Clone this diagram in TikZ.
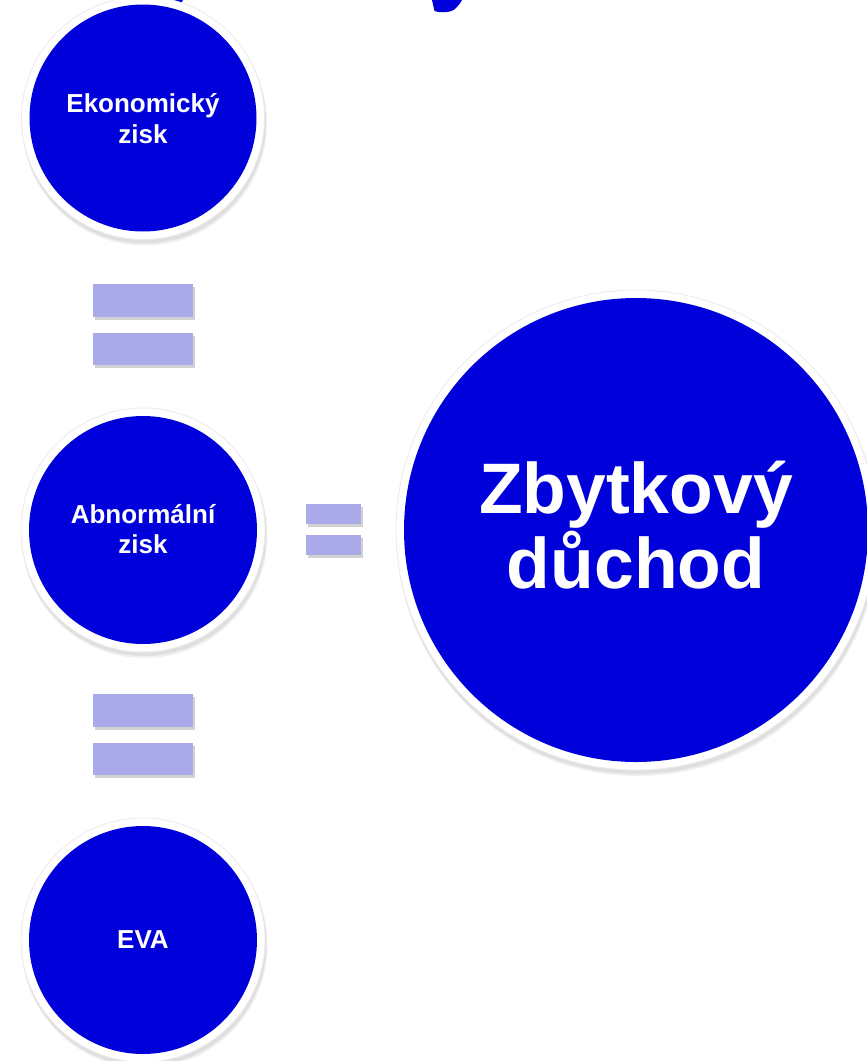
\documentclass[tikz,border=0pt]{standalone}
\usepackage{fontspec}
\setmainfont{Liberation Sans}
\usetikzlibrary{shadows}
\definecolor{dblue}{RGB}{0,0,218}
\definecolor{barfill}{RGB}{170,170,232}
\tikzset{
  disc/.style={circle, fill=dblue, inner sep=0pt, minimum size=#1},
  eqbar/.style={rectangle, fill=barfill, inner sep=0pt,
    drop shadow={shadow xshift=1.5pt, shadow yshift=-2.5pt, opacity=0.25, fill=black!70}},
  smalltxt/.style={text=white, font=\fontsize{26}{30}\selectfont\bfseries, inner sep=0pt, anchor=base},
  bigtxt/.style={text=white, font=\fontsize{71.5}{75}\selectfont\bfseries, inner sep=0pt, anchor=base},
}
\newcommand\ringdisc[4]{%
  \fill[black, opacity=0.06] (#2+1.5,#3-5) circle (#4+9);
  \fill[black, opacity=0.07] (#2+1,#3-3.5) circle (#4+8.5);
  \fill[white] (#2,#3) circle (#4+8);
  \draw[black!8, line width=0.8pt] (#2,#3) circle (#4+8);
  \node[disc=#4*2pt] (#1) at (#2,#3) {};
}
\begin{document}
\begin{tikzpicture}[x=1pt,y=1pt]
\useasboundingbox (0,0) rectangle (867,-1061);
\clip (0,0) rectangle (867,-1061);
% cut-off title fragments
\fill[dblue] (432,0) -- (434.5,-11) .. controls (440,-13) and (452,-13) .. (456,-8) .. controls (459,-5) and (461,-2) .. (462,0) -- cycle;
\fill[dblue] (170,0) -- (183,0) -- (181,-3.5) -- (176,-2) -- cycle;
% circles
\ringdisc{c1}{143}{-118}{113.5}
\ringdisc{c2}{143}{-530}{114}
\ringdisc{c3}{143}{-940}{114}
\ringdisc{c4}{636}{-530}{232}
% labels
\node[smalltxt] (t1a) at ([yshift=6pt]c1.center) {Ekonomický};
\node[smalltxt] (t1b) at ([yshift=-25pt]c1.center) {zisk};
\node[smalltxt] (t2a) at ([yshift=7pt]c2.center) {Abnormální};
\node[smalltxt] (t2b) at ([yshift=-23pt]c2.center) {zisk};
\node[smalltxt] (t3) at ([yshift=-8pt]c3.center) {EVA};
\node[bigtxt] (t4a) at ([yshift=17pt]c4.center) {Zbytkový};
\node[bigtxt] (t4b) at ([yshift=-58pt]c4.center) {důchod};
% equals signs
\node[eqbar, minimum width=100pt, minimum height=33pt] (e1a) at (143,-300.5) {};
\node[eqbar, minimum width=100pt, minimum height=32pt] (e1b) at (143,-349) {};
\node[eqbar, minimum width=100pt, minimum height=33pt] (e2a) at (143,-710.5) {};
\node[eqbar, minimum width=100pt, minimum height=32pt] (e2b) at (143,-759) {};
\node[eqbar, minimum width=55pt, minimum height=20pt] (e3a) at (333.5,-514) {};
\node[eqbar, minimum width=55pt, minimum height=20pt] (e3b) at (333.5,-545) {};
\end{tikzpicture}
\end{document}
